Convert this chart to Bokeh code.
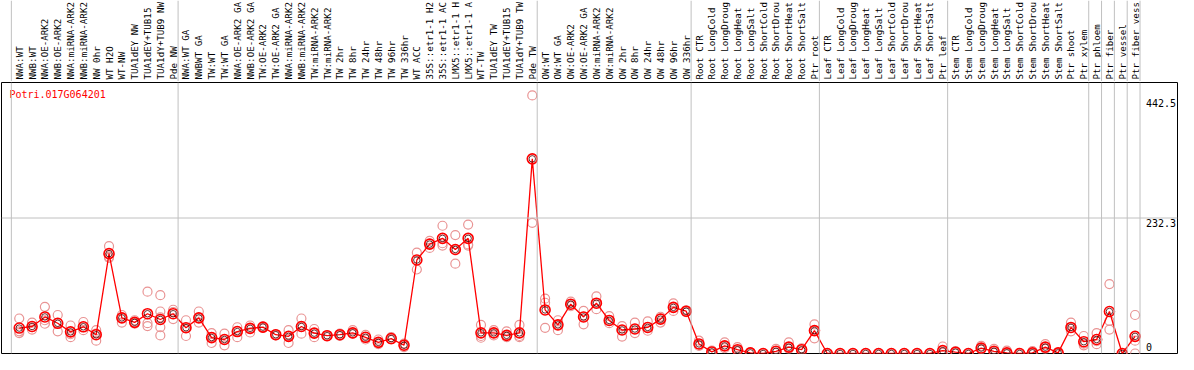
import numpy as np
from bokeh.plotting import figure
from bokeh.layouts import column
from bokeh.models import Range1d, Span
from bokeh.core.properties import value
from bokeh.embed import file_html
from bokeh.resources import INLINE

# ---------------- data ----------------
gene_id = "Potri.017G064201"

samples = [
    "NWA:WT", "NWB:WT", "NWA:OE-ARK2", "NWB:OE-ARK2", "NWA:miRNA-ARK2", "NWB:miRNA-ARK2",
    "NW 0hr", "WT H2O", "WT-NW", "TUA1dEY NW", "TUA1dEY+TUB15", "TUA1dY+TUB9 NW", "Pde NW",
    "NWA:WT GA", "NWBWT GA", "TW:WT", "TW:WT GA", "NWA:OE-ARK2 GA", "NWB:OE-ARK2 GA",
    "TW:OE-ARK2", "TW:OE-ARK2 GA", "NWA:miRNA-ARK2", "NWB:miRNA-ARK2", "TW:miRNA-ARK2",
    "TW:miRNA-ARK2", "TW 2hr", "TW 8hr", "TW 24hr", "TW 48hr", "TW 96hr", "TW 336hr",
    "WT ACC", "35S::etr1-1 H2", "35S::etr1-1 AC", "LMX5::etr1-1 H", "LMX5::etr1-1 A",
    "WT-TW", "TUA1dEY TW", "TUA1dEY+TUB15", "TUA1dY+TUB9 TW", "Pde TW",
    "OW:WT", "OW:WT GA", "OW:OE-ARK2", "OW:OE-ARK2 GA", "OW:miRNA-ARK2", "OW:miRNA-ARK2",
    "OW 2hr", "OW 8hr", "OW 24hr", "OW 48hr", "OW 96hr", "OW 336hr",
    "Root CTR", "Root LongCold", "Root LongDroug", "Root LongHeat", "Root LongSalt",
    "Root ShortCold", "Root ShortDrou", "Root ShortHeat", "Root ShortSalt", "Ptr root",
    "Leaf CTR", "Leaf LongCold", "Leaf LongDroug", "Leaf LongHeat", "Leaf LongSalt",
    "Leaf ShortCold", "Leaf ShortDrou", "Leaf ShortHeat", "Leaf ShortSalt", "Ptr leaf",
    "Stem CTR", "Stem LongCold", "Stem LongDroug", "Stem LongHeat", "Stem LongSalt",
    "Stem ShortCold", "Stem ShortDrou", "Stem ShortHeat", "Stem ShortSalt", "Ptr shoot",
    "Ptr xylem", "Ptr phloem", "Ptr fiber", "Ptr vessel", "Ptr fiber vess",
]

group_sizes = [13, 28, 12, 10, 10, 11, 1, 1, 1, 1]

mean_expr = [
    43.6, 46.3, 62.7, 51.8, 37.1, 45.8, 32.2, 171.2, 61.1, 53.4, 68.2, 58.3, 68.2, 44.2,
    61.1, 27.3, 24.0, 37.6, 43.1, 45.3, 32.2, 29.4, 46.3, 34.9, 30.5, 32.2, 35.4, 27.8, 19.1, 25.6,
    14.2, 160.3, 187.6, 197.4, 178.3, 197.4, 35.4, 35.4, 31.1, 35.4, 333.7,
    74.7, 49.1, 84.5, 62.7, 86.2, 56.7, 40.3, 42.0, 44.7, 58.9, 79.1, 72.5,
    16.4, 2.7, 13.1, 6.5, 1.1, 0.0, 3.8, 10.9, 6.5, 39.3,
    0, 0, 0, 0, 0, 0, 0, 0, 0, 4.9,
    2.2, 0, 9.3, 3.8, 1.1, 0, 1.1, 10.9, 1.1, 44.7, 20.2,
    24.0, 72.0, 0.0, 29.4,
]

replicate_expr = [
    [60, 38, 35], [53, 45, 41], [80, 57, 51], [66, 52, 38], [48, 33, 28], [54, 45, 40],
    [40, 34, 22], [184, 166, 164], [66, 61, 53], [57, 53, 51], [106, 52, 47],
    [100, 72, 62, 45, 31], [75, 71, 59],
    [57, 44, 30], [72, 61, 53], [35, 28, 18], [34, 24, 14], [45, 38, 28], [48, 43, 36],
    [46, 45, 44], [33, 32, 31], [40, 30, 18], [60, 46, 34], [42, 35, 28], [31, 30, 30],
    [34, 32, 30], [40, 35, 34], [32, 28, 24], [24, 19, 16], [28, 25, 24], [17, 14, 11],
    [173, 144], [193, 188, 181], [219, 189, 185], [203, 178, 154], [221, 187, 185],
    [49, 30, 27], [40, 35, 31], [38, 31, 28], [49, 30, 28], [442.5, 224],
    [94, 87, 44], [57, 49, 40], [89, 84, 81], [73, 63, 50], [98, 86, 76], [64, 57, 52],
    [47, 40, 29], [53, 42, 35], [55, 45, 39], [63, 60, 53], [86, 79, 73], [74, 72, 71],
    [22, 16, 13], [5, 3, 0], [19, 13, 9], [11, 6, 4], [2, 1, 1], [0, 0, 0], [8, 4, 1],
    [19, 11, 8], [9, 7, 3], [50, 39, 26],
    [0, 0, 0], [0, 0, 0], [0, 0, 0], [0, 0, 0], [0, 0, 0], [0, 0, 0], [0, 0, 0],
    [0, 0, 0], [0, 0, 0], [12, 2, 1],
    [4, 2, 1], [0, 0, 0], [13, 8, 7], [8, 3, 1], [5, 0, 0], [0, 0, 0], [4, 0, 0],
    [16, 9, 8], [1, 1, 1], [53, 44, 38], [30, 17, 14],
    [35, 21, 16], [119, 56, 41], [0, 0], [66, 22, 0],
]

axis_max = 442.5
axis_labels = ["442.5", "232.3", "0"]

# ---------------- layout ----------------
W = 1178
H_LAB = 81
H_PLOT = 273
REF_W = 1194
step_px = 13 * W / REF_W
first_px = 19 * W / REF_W
border_l, border_r = 1, 1
frame_w = W - border_l - border_r
x0 = -(first_px - border_l) / step_px
x1 = x0 + frame_w / step_px
x_range = Range1d(x0, x1)

y_top = axis_max * 1.05
y_mid = y_top / 2
frame_h = H_PLOT - 2
px_per_unit = frame_h / y_top

FONT = value("DejaVu Sans Mono")
FS = "10px"
FS_LAB = "9.2px"
GRID = "#c0c0c0"

n = len(samples)
idx = list(range(n))
ends = np.cumsum(group_sizes) - 1
sep_x = [-1 + 5 / 13] + [e + 5 / 13 for e in ends]

# label strip
lab = figure(width=W, height=H_LAB, x_range=x_range, y_range=Range1d(0, H_LAB),
             output_backend="svg", toolbar_location=None,
             x_axis_location=None, y_axis_location=None,
             min_border_left=border_l, min_border_right=border_r,
             min_border_top=0, min_border_bottom=0,
             outline_line_color=None, background_fill_color="white",
             border_fill_color="white")
lab.grid.visible = False
for sx in sep_x:
    lab.add_layout(Span(location=sx, dimension="height", line_color=GRID, line_width=1))
lab.text(x=idx, y=[2] * n, text=samples, angle=np.pi / 2, text_align="left",
         text_baseline="middle", text_font=FONT, text_font_size=FS_LAB, text_color="black")

# plot area
p = figure(width=W, height=H_PLOT, x_range=x_range, y_range=Range1d(0, y_top),
           output_backend="svg", toolbar_location=None,
           x_axis_location=None, y_axis_location=None,
           min_border_left=border_l, min_border_right=border_r,
           min_border_top=1, min_border_bottom=1,
           outline_line_color="black", outline_line_width=1,
           background_fill_color="white", border_fill_color="white")
p.grid.visible = False
for sx in sep_x:
    p.add_layout(Span(location=sx, dimension="height", line_color=GRID, line_width=1))
p.add_layout(Span(location=y_mid, dimension="width", line_color=GRID, line_width=1))

rx, ry = [], []
for i, reps in enumerate(replicate_expr):
    for v in reps:
        rx.append(i)
        ry.append(v)
p.scatter(rx, ry, marker="circle", size=9, fill_color=None,
          line_color="#e99494", line_width=1.2)
p.line(idx, mean_expr, line_color="red", line_width=1.3)
p.scatter(idx, mean_expr, marker="circle", size=10, fill_color=None,
          line_color="red", line_width=1.6)
p.scatter(idx, mean_expr, marker="circle", size=6.5, fill_color=None,
          line_color="#400000", line_width=0.8)

# gene id
p.text(x=[-10 / 13], y=[y_top - 12.4 / px_per_unit], text=[gene_id],
       text_align="left", text_baseline="middle", text_font=FONT,
       text_font_size=FS, text_color="red")

# right-hand value labels
lx = n - 1 + 0.85
tick_vals = [axis_max, y_mid, 0.0]
p.text(x=[lx, lx], y=[tick_vals[0] - 4 / px_per_unit, tick_vals[1] - 0.5 / px_per_unit],
       text=axis_labels[:2], text_align="left", text_baseline="top",
       text_font=FONT, text_font_size=FS, text_color="black")
p.text(x=[lx], y=[tick_vals[2] + 3 / px_per_unit], text=axis_labels[2:],
       text_align="left", text_baseline="bottom",
       text_font=FONT, text_font_size=FS, text_color="black")

layout = column(lab, p, spacing=0)
open("out.html", "w").write(file_html(layout, INLINE))
